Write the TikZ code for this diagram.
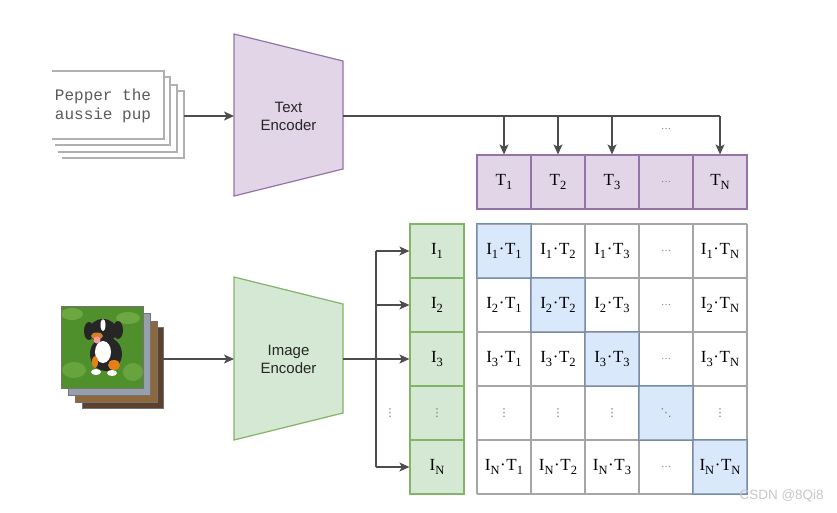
\documentclass[tikz,border=0pt]{standalone}
\usepackage{fontspec}
\setmainfont{Liberation Serif}
\setsansfont{Liberation Sans}
\setmonofont{Liberation Mono}
\newfontfamily\dvsans{DejaVu Sans}
\usetikzlibrary{arrows.meta}
\definecolor{purfill}{HTML}{E1D5E7}
\definecolor{purdraw}{HTML}{9673A6}
\definecolor{grnfill}{HTML}{D5E8D4}
\definecolor{grndraw}{HTML}{82B366}
\definecolor{bluefill}{HTML}{DAE8FC}
\definecolor{bluedraw}{HTML}{6C8EBF}
\definecolor{cellgray}{HTML}{A6A6A6}
\definecolor{arrowgray}{HTML}{4D4D4D}
\definecolor{txtgray}{HTML}{5A5A5A}
\definecolor{dotgray}{HTML}{707070}
\definecolor{papergray}{HTML}{B0B0B0}
\definecolor{grass}{HTML}{4F8F2C}
\definecolor{grasslight}{HTML}{79B24A}
\newcommand\sbs[1]{\raisebox{-3.5pt}{\fontsize{12.5}{14}\selectfont #1}}
\newcommand\celllab[4]{%
  \ifnum#1=4 \ifnum#3=4 {\color{dotgray}\dvsans\fontsize{11}{12}\selectfont\char"22F1}\else{\color{dotgray}\dvsans\fontsize{11}{12}\selectfont\char"22EE}\fi
  \else\ifnum#3=4 {\color{dotgray}\fontsize{10}{12}\selectfont\char"2026}\else I\sbs{#2}\kern0.6pt·\kern0.6pt T\sbs{#4}\fi\fi}
\begin{document}
\begin{tikzpicture}[x=1pt,y=-1pt,
  enc/.style={line width=1.2pt},
  enclab/.style={font=\sffamily\fontsize{15}{18}\selectfont, text=black!85, align=center},
  conn/.style={draw=arrowgray, line width=1.3pt, -{Stealth[length=10pt,width=9pt,inset=2.5pt]}},
  bus/.style={draw=arrowgray, line width=1.3pt},
  photo/.style={draw=black!55, line width=1pt},
  tbox/.style={draw=purdraw, fill=purfill, line width=1.2pt, minimum width=54pt, minimum height=54pt, inner sep=0pt, font=\fontsize{17}{20}\selectfont},
  ibox/.style={draw=grndraw, fill=grnfill, line width=1.2pt, minimum width=54pt, minimum height=54pt, inner sep=0pt, font=\fontsize{17}{20}\selectfont},
  cellfill/.style={minimum width=54pt, minimum height=54pt, inner sep=0pt, font=\fontsize{17}{20}\selectfont},
  gridline/.style={draw=cellgray, line width=1.2pt},
  diagline/.style={draw=bluedraw, line width=1.2pt},
  dots/.style={text=dotgray, font=\dvsans\fontsize{11}{12}\selectfont}
]
\useasboundingbox (0,0) rectangle (837,512);

% ---------- text stack ----------
\foreach \l/\t/\r/\b in {62/91/184/158, 58/85/177/152, 55/77/170/145, 52/71/164/139}{
  \fill[white] (\l,\t) rectangle (\r,\b);
  \draw[draw=papergray, line width=1.2pt] (\l,\t) -- (\r,\t) -- (\r,\b) -- (\l,\b);
}
\node[font=\ttfamily\fontsize{16}{19}\selectfont, text=txtgray, align=left] (caption) at (103,106) {Pepper the\\aussie pup};
\coordinate (txtR) at (184,116);

% ---------- text encoder ----------
\filldraw[enc, fill=purfill, draw=purdraw] (234,34) -- (343,61) -- (343,169) -- (234,196) -- cycle;
\node[enclab] (textenc) at (288.5,116) {Text\\Encoder};
\coordinate (teL) at (234,116);
\coordinate (teR) at (343,116);
\draw[conn] (txtR) -- (teL);

% ---------- T boxes ----------
\foreach \c/\cl in {1/1,2/2,3/3,5/N}{
  \node[tbox] (t\c) at ({450+54*\c},182) {T\sbs{\cl}};
}
\node[tbox] (t4) at (666,182) {{\color{dotgray}\fontsize{10}{12}\selectfont\char"2026}};
\coordinate (tbusEnd) at (720,116);
\draw[bus] (teR) -- (tbusEnd);
\foreach \c in {1,2,3,5}{
  \draw[conn] (t\c |- teR) -- (t\c.north);
}
\node[text=dotgray, font=\fontsize{10}{12}\selectfont] (tdots) at (666,129) {\char"2026};

% ---------- image stack ----------
\draw[photo, fill={rgb,255:red,92;green,66;blue,44}] (82,327) rectangle (163,408);
\draw[photo, fill={rgb,255:red,140;green,104;blue,60}] (75,321) rectangle (157,402);
\draw[photo, fill={rgb,255:red,150;green,160;blue,172}] (68,313) rectangle (150,395);
\begin{scope}
  \clip (61,306) rectangle (143,388);
  \fill[grass] (61,306) rectangle (143,388);
  \fill[grasslight, opacity=0.7] (72,314) ellipse (11 and 6);
  \fill[grasslight, opacity=0.7] (128,318) ellipse (12 and 6);
  \fill[grasslight, opacity=0.6] (74,370) ellipse (12 and 8);
  \fill[grasslight, opacity=0.6] (133,372) ellipse (10 and 9);
  % dog
  \fill[black!85] (106,354) ellipse (16 and 17);
  \fill[black!85] (103,331) ellipse (14 and 12);
  \fill[black!85] (89,331) ellipse (5 and 9);
  \fill[black!85] (118,330) ellipse (5 and 9);
  \fill[white] (103,352) ellipse (8 and 11);
  \fill[white] (103,325) ellipse (2.5 and 6);
  \fill[brown!70!orange] (97,336) ellipse (6 and 3.5);
  \fill[pink!80!red] (97,340) circle (3.5);
  \fill[orange!60!brown] (114,365) ellipse (6 and 5);
  \fill[orange!60!brown] (95,362) ellipse (3 and 6);
  \fill[white] (96,372) ellipse (5 and 3);
  \fill[white] (112,373) ellipse (5 and 3);
\end{scope}
\draw[photo] (61,306) rectangle (143,388);
\coordinate (imgR) at (163,359);

% ---------- image encoder ----------
\filldraw[enc, fill=grnfill, draw=grndraw] (234,277) -- (343,304) -- (343,413) -- (234,440) -- cycle;
\node[enclab] (imgenc) at (288.5,359) {Image\\Encoder};
\coordinate (ieL) at (234,359);
\coordinate (ieR) at (343,359);
\draw[conn] (imgR) -- (ieL);

% ---------- I boxes ----------
\foreach \r/\rl in {1/1,2/2,3/3,5/N}{
  \node[ibox] (i\r) at (437,{197+54*\r}) {I\sbs{\rl}};
}
\node[ibox] (i4) at (437,413) {{\dvsans\fontsize{11}{12}\selectfont\color{dotgray}\char"22EE}};
\coordinate (ibus1) at (376,251);
\coordinate (ibus5) at (376,467);
\draw[bus] (ibus1) -- (ibus5);
\draw[bus] (ieR) -- (ieR -| ibus1);
\foreach \r in {1,2,3,5}{
  \draw[conn] (ibus1 |- i\r) -- (i\r.west);
}
\node[dots] (idots) at (390,413) {\char"22EE};

% ---------- similarity matrix ----------
\foreach \r/\rl in {1/1,2/2,3/3,4/4,5/N}{
  \foreach \c/\cl in {1/1,2/2,3/3,4/4,5/N}{
    \ifnum\r=\c \def\cfill{bluefill}\else\def\cfill{white}\fi
    \node[cellfill, fill=\cfill] (m\r\c) at ({450+54*\c},{197+54*\r}) {\celllab{\r}{\rl}{\c}{\cl}};
  }
}
\foreach \k in {0,...,5}{
  \draw[gridline] ({477+54*\k},224) -- ({477+54*\k},494);
  \draw[gridline] (477,{224+54*\k}) -- (747,{224+54*\k});
}
\foreach \k in {1,...,5}{
  \draw[diagline] (m\k\k.north west) rectangle (m\k\k.south east);
}

% ---------- watermark ----------
\node[font=\sffamily\fontsize{13.5}{15}\selectfont, text=black!22, anchor=west] (wm) at (736,496) {CSDN @8Qi8};
\end{tikzpicture}
\end{document}
